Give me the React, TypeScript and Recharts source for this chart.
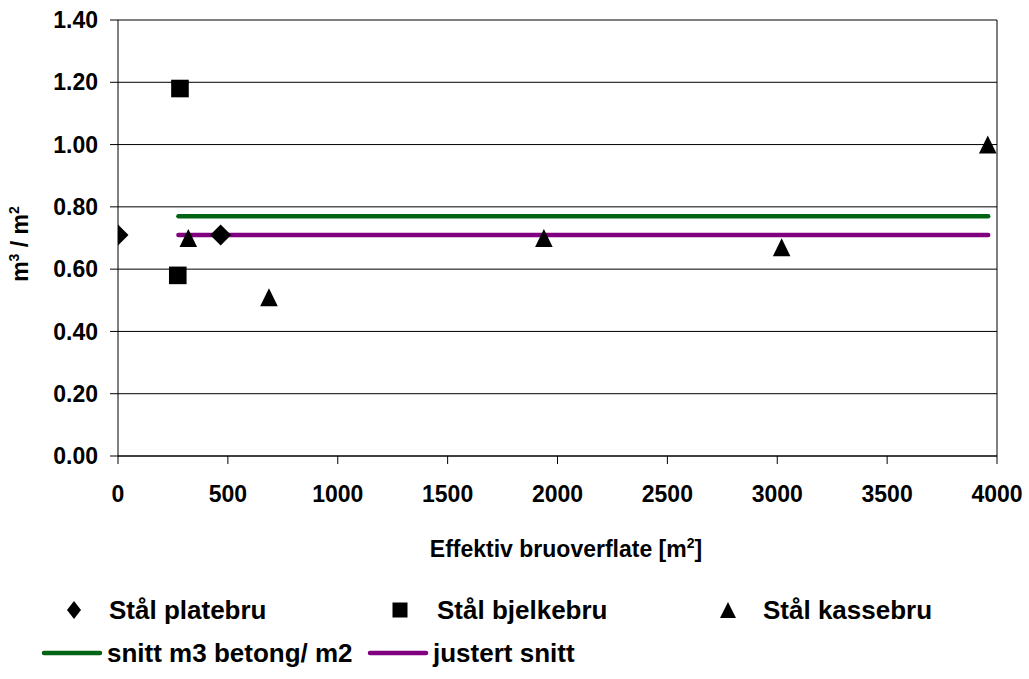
import React from 'react';
import {
  ComposedChart,
  Scatter,
  Line,
  XAxis,
  YAxis,
  CartesianGrid,
  ReferenceLine,
  Label,
} from 'recharts';

// ---- data ----
const platebruX = [0, 467];
const platebruY = [0.71, 0.71];

const bjelkebruX = [282, 272];
const bjelkebruY = [1.18, 0.58];

const kassebruX = [320, 687, 1938, 3020, 3958];
const kassebruY = [0.70, 0.51, 0.70, 0.67, 1.0];

const snittX = [275, 3960];
const snittY = [0.77, 0.77];

const justertX = [275, 3960];
const justertY = [0.71, 0.71];

const xTicks = [0, 500, 1000, 1500, 2000, 2500, 3000, 3500, 4000];
const yTicks = [0, 0.2, 0.4, 0.6, 0.8, 1.0, 1.2, 1.4];

const seriesNames = ['Stål platebru', 'Stål bjelkebru', 'Stål kassebru', 'snitt m3 betong/ m2', 'justert snitt'];

const toPts = (xs: number[], ys: number[]) => xs.map((x, i) => ({ x, y: ys[i] }));

const platebru = toPts(platebruX, platebruY);
const bjelkebru = toPts(bjelkebruX, bjelkebruY);
const kassebru = toPts(kassebruX, kassebruY);
const snitt = toPts(snittX, snittY);
const justert = toPts(justertX, justertY);

const FONT = '"Liberation Sans", Arial, Helvetica, sans-serif';
const GREEN = '#006414';
const PURPLE = '#800080';

const Diamond = (p: any) => {
  const { cx, cy } = p;
  const r = 10.5;
  return <path d={`M${cx},${cy - r}L${cx + r},${cy}L${cx},${cy + r}L${cx - r},${cy}Z`} fill="#000" />;
};
const Square = (p: any) => {
  const { cx, cy } = p;
  const h = 8.8;
  return <rect x={cx - h} y={cy - h} width={2 * h} height={2 * h} fill="#000" />;
};
const Triangle = (p: any) => {
  const { cx, cy } = p;
  const w = 8.8;
  const h = 9;
  return <path d={`M${cx},${cy - h}L${cx + w},${cy + h}L${cx - w},${cy + h}Z`} fill="#000" />;
};

const XTitle = () => (
  <text x={566} y={557} textAnchor="middle" fontFamily={FONT} fontWeight="bold" fontSize={23} fill="#000">
    Effektiv bruoverflate [m
    <tspan fontSize={14} dy={-9}>2</tspan>
    <tspan dy={9}>]</tspan>
  </text>
);

const YTitle = () => (
  <text
    x={0}
    y={0}
    transform="translate(28,244) rotate(-90)"
    textAnchor="middle"
    fontFamily={FONT}
    fontWeight="bold"
    fontSize={23}
    fill="#000"
  >
    m<tspan fontSize={14} dy={-9}>3</tspan>
    <tspan dy={9}> / m</tspan>
    <tspan fontSize={14} dy={-9}>2</tspan>
  </text>
);

const legendText: React.CSSProperties = {
  fontFamily: FONT,
  fontWeight: 'bold',
  fontSize: 26,
  color: '#000',
  whiteSpace: 'nowrap',
  lineHeight: '30px',
};

const MarkerIcon = ({ kind }: { kind: string }) => (
  <svg width={18} height={18} style={{ display: 'block' }}>
    {kind === 'diamond' && <path d="M9,0L16,9L9,18L2,9Z" fill="#000" />}
    {kind === 'square' && <rect x={1.5} y={1.5} width={15} height={15} fill="#000" />}
    {kind === 'triangle' && <path d="M9,1L17,17L1,17Z" fill="#000" />}
  </svg>
);

const LineIcon = ({ color }: { color: string }) => (
  <svg width={62} height={10} style={{ display: 'block' }}>
    <line x1={3} y1={5} x2={59} y2={5} stroke={color} strokeWidth={4.5} strokeLinecap="round" />
  </svg>
);

export default function App() {
  return (
    <div style={{ position: 'absolute', left: 0, top: 0, width: 1029, height: 679, background: '#fff' }}>
      <ComposedChart
        width={1029}
        height={679}
        margin={{ top: 20, right: 32, bottom: 163, left: 0 }}
      >
        <CartesianGrid horizontal vertical={false} stroke="#000" strokeWidth={1} />
        <XAxis
          type="number"
          dataKey="x"
          domain={[0, 4000]}
          ticks={xTicks}
          interval={0}
          height={60}
          axisLine={{ stroke: '#000', strokeWidth: 1 }}
          tickLine={{ stroke: '#000', strokeWidth: 1 }}
          tickSize={8}
          tickMargin={22}
          tick={{ fontFamily: FONT, fontWeight: 'bold', fontSize: 23, fill: '#000' }}
          allowDataOverflow
        >
          <Label content={<XTitle />} />
        </XAxis>
        <YAxis
          type="number"
          dataKey="y"
          domain={[0, 1.4]}
          ticks={yTicks}
          interval={0}
          width={118}
          axisLine={{ stroke: '#000', strokeWidth: 1 }}
          tickLine={{ stroke: '#000', strokeWidth: 1 }}
          tickSize={8}
          tickMargin={12}
          tickFormatter={(v: number) => v.toFixed(2)}
          tick={{ fontFamily: FONT, fontWeight: 'bold', fontSize: 23, fill: '#000' }}
          allowDataOverflow
        >
          <Label content={<YTitle />} />
        </YAxis>
        <ReferenceLine x={4000} stroke="#000" strokeWidth={1} />
        <Line
          data={snitt}
          dataKey="y"
          name={seriesNames[3]}
          stroke={GREEN}
          strokeWidth={4.5}
          strokeLinecap="round"
          dot={false}
          activeDot={false}
          isAnimationActive={false}
          type="linear"
        />
        <Line
          data={justert}
          dataKey="y"
          name={seriesNames[4]}
          stroke={PURPLE}
          strokeWidth={4.5}
          strokeLinecap="round"
          dot={false}
          activeDot={false}
          isAnimationActive={false}
          type="linear"
        />
        <Scatter data={platebru} dataKey="y" name={seriesNames[0]} shape={<Diamond />} isAnimationActive={false} />
        <Scatter data={bjelkebru} dataKey="y" name={seriesNames[1]} shape={<Square />} isAnimationActive={false} />
        <Scatter data={kassebru} dataKey="y" name={seriesNames[2]} shape={<Triangle />} isAnimationActive={false} />
      </ComposedChart>

      {/* Legend row 1 */}
      <div style={{ position: 'absolute', left: 65, top: 595, display: 'flex', alignItems: 'center' }}>
        <MarkerIcon kind="diamond" />
        <span style={{ ...legendText, marginLeft: 26 }}>{seriesNames[0]}</span>
      </div>
      <div style={{ position: 'absolute', left: 391, top: 595, display: 'flex', alignItems: 'center' }}>
        <MarkerIcon kind="square" />
        <span style={{ ...legendText, marginLeft: 28 }}>{seriesNames[1]}</span>
      </div>
      <div style={{ position: 'absolute', left: 719, top: 595, display: 'flex', alignItems: 'center' }}>
        <MarkerIcon kind="triangle" />
        <span style={{ ...legendText, marginLeft: 26 }}>{seriesNames[2]}</span>
      </div>
      {/* Legend row 2 */}
      <div style={{ position: 'absolute', left: 41, top: 638, display: 'flex', alignItems: 'center' }}>
        <LineIcon color={GREEN} />
        <span style={{ ...legendText, marginLeft: 4 }}>{seriesNames[3]}</span>
      </div>
      <div style={{ position: 'absolute', left: 367, top: 638, display: 'flex', alignItems: 'center' }}>
        <LineIcon color={PURPLE} />
        <span style={{ ...legendText, marginLeft: 4 }}>{seriesNames[4]}</span>
      </div>
    </div>
  );
}
